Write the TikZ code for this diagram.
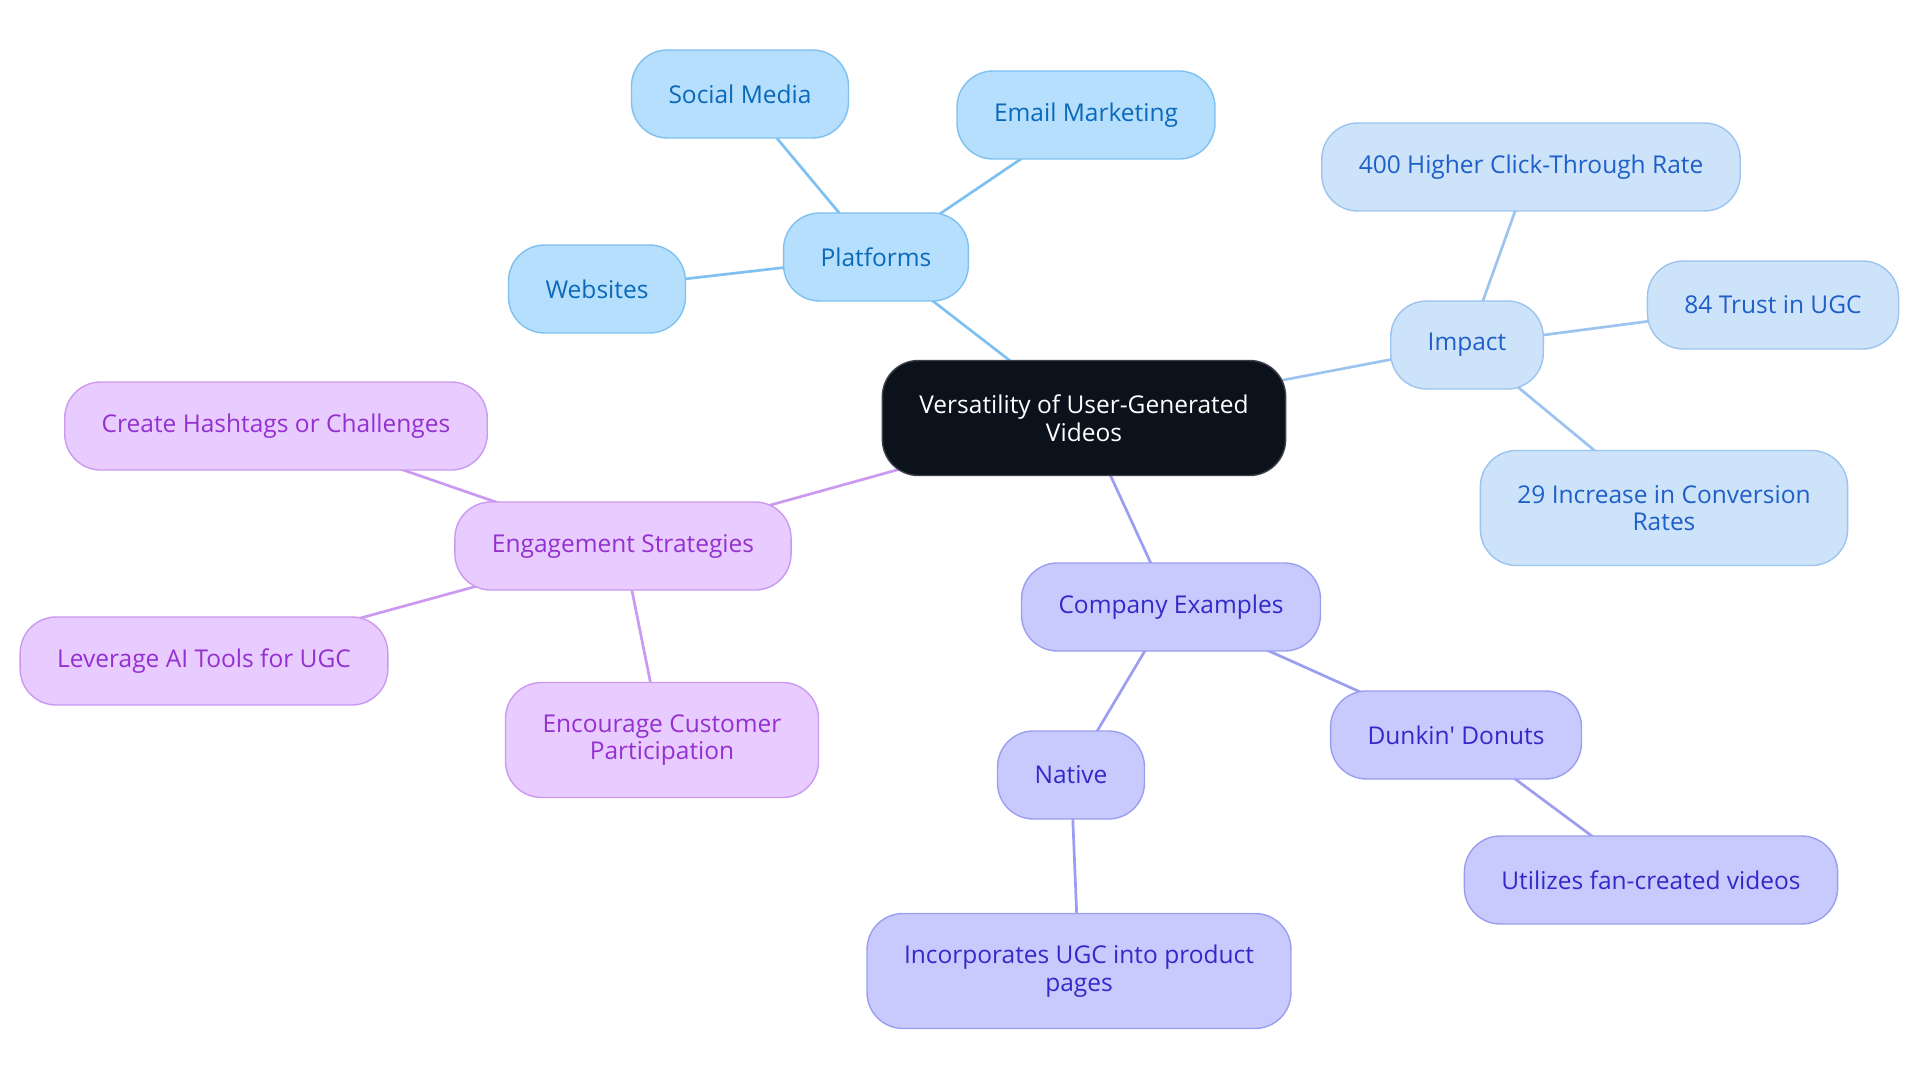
\documentclass[tikz,border=0pt]{standalone}
\usepackage{fontspec}
\setmainfont{Open Sans}
\usetikzlibrary{backgrounds}

% Colores de las ramas
\definecolor{centrofondo}{HTML}{0C121C}
\definecolor{azulfondo}{HTML}{B5DFFD}
\definecolor{azulborde}{HTML}{7EC1F0}
\definecolor{azultexto}{HTML}{0B69B9}
\definecolor{celestefondo}{HTML}{CDE3FA}
\definecolor{celesteborde}{HTML}{9CC4EE}
\definecolor{celestetexto}{HTML}{1F5FC8}
\definecolor{lilafondo}{HTML}{C8CAFD}
\definecolor{lilaborde}{HTML}{9B9EF0}
\definecolor{lilatexto}{HTML}{3329C8}
\definecolor{moradofondo}{HTML}{E8CBFF}
\definecolor{moradoborde}{HTML}{CC99F0}
\definecolor{moradotexto}{HTML}{9430D0}

\tikzset{
  caja/.style={rounded corners=36pt, line width=1.4pt, minimum height=88pt,
    inner xsep=37pt, inner ysep=4pt, align=center,
    font=\fontsize{24.5}{27.5}\selectfont},
  doble/.style={minimum height=115pt},
  centro/.style={caja, fill=centrofondo, draw=centrofondo!80!white, text=white},
  azul/.style={caja, fill=azulfondo, draw=azulborde, text=azultexto},
  celeste/.style={caja, fill=celestefondo, draw=celesteborde, text=celestetexto},
  lila/.style={caja, fill=lilafondo, draw=lilaborde, text=lilatexto},
  morado/.style={caja, fill=moradofondo, draw=moradoborde, text=moradotexto},
  rama/.style={line width=2.7pt}
}

\begin{document}
\begin{tikzpicture}[x=1pt, y=-1pt]
    \useasboundingbox (0, 0) rectangle (1920, 1083);

    % Nodo central
    \node[centro, doble] (ugc) at (1084, 418) {Versatility of User-Generated\\Videos};

    % Rama Platforms
    \node[azul] (platforms) at (876, 257) {Platforms};
    \node[azul] (social) at (740, 94) {Social Media};
    \node[azul] (email) at (1086, 115) {Email Marketing};
    \node[azul] (websites) at (597, 289) {Websites};

    % Rama Impact
    \node[celeste] (impact) at (1467, 345) {Impact};
    \node[celeste] (ctr) at (1531, 167) {400 Higher Click-Through Rate};
    \node[celeste] (trust) at (1773, 305) {84 Trust in UGC};
    \node[celeste, doble] (conversion) at (1664, 508) {29 Increase in Conversion\\Rates};

    % Rama Company Examples
    \node[lila] (company) at (1171, 607) {Company Examples};
    \node[lila] (native) at (1071, 775) {Native};
    \node[lila] (dunkin) at (1456, 735) {Dunkin\textquotesingle{} Donuts};
    \node[lila] (fanvideos) at (1651, 880) {Utilizes fan-created videos};
    \node[lila, doble] (productpages) at (1079, 971) {Incorporates UGC into product\\pages};

    % Rama Engagement Strategies
    \node[morado] (engagement) at (623, 546) {Engagement Strategies};
    \node[morado] (hashtags) at (276, 426) {Create Hashtags or Challenges};
    \node[morado] (aitools) at (204, 661) {Leverage AI Tools for UGC};
    \node[morado, doble] (participation) at (662, 740) {Encourage Customer\\Participation};

    % Conexiones (detras de las cajas)
    \begin{scope}[on background layer]
      \draw[rama, azulborde] (ugc.center) -- (platforms.center);
      \foreach \hoja in {social, email, websites}
        \draw[rama, azulborde] (platforms.center) -- (\hoja.center);
      \draw[rama, celesteborde] (ugc.center) -- (impact.center);
      \foreach \hoja in {ctr, trust, conversion}
        \draw[rama, celesteborde] (impact.center) -- (\hoja.center);
      \draw[rama, lilaborde] (ugc.center) -- (company.center);
      \draw[rama, lilaborde] (company.center) -- (native.center);
      \draw[rama, lilaborde] (company.center) -- (dunkin.center);
      \draw[rama, lilaborde] (dunkin.center) -- (fanvideos.center);
      \draw[rama, lilaborde] (native.center) -- (productpages.center);
      \draw[rama, moradoborde] (ugc.center) -- (engagement.center);
      \foreach \hoja in {hashtags, aitools, participation}
        \draw[rama, moradoborde] (engagement.center) -- (\hoja.center);
    \end{scope}
\end{tikzpicture}
\end{document}
